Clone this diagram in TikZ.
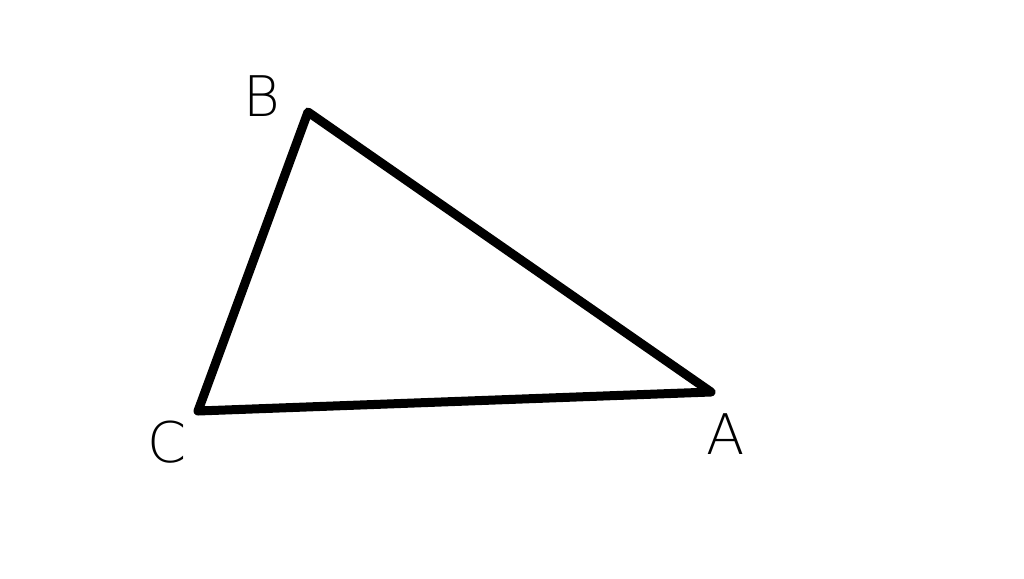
\documentclass[tikz,border=0pt]{standalone}
\usepackage{fontspec}
\setmainfont{DejaVu Sans}
\begin{document}
\begin{tikzpicture}[x=1pt,y=-1pt,
  edge/.style={line width=9pt,line join=round,line cap=round},
  lbl/.style={font=\fontsize{56}{60}\selectfont\fontspec{DejaVu Sans ExtraLight},inner sep=0pt}]
\useasboundingbox (0,0) rectangle (1024,578);
\coordinate (B) at (308,112);
\coordinate (C) at (198,411);
\coordinate (A) at (711,392);
\draw[edge] (B) -- (A) -- (C) -- cycle;
\node[lbl] (lb) at (262,96) {B};
\node[lbl] (lc) at (167,442) {C};
\node[lbl] (la) at (726,434) {A};
\end{tikzpicture}
\end{document}
